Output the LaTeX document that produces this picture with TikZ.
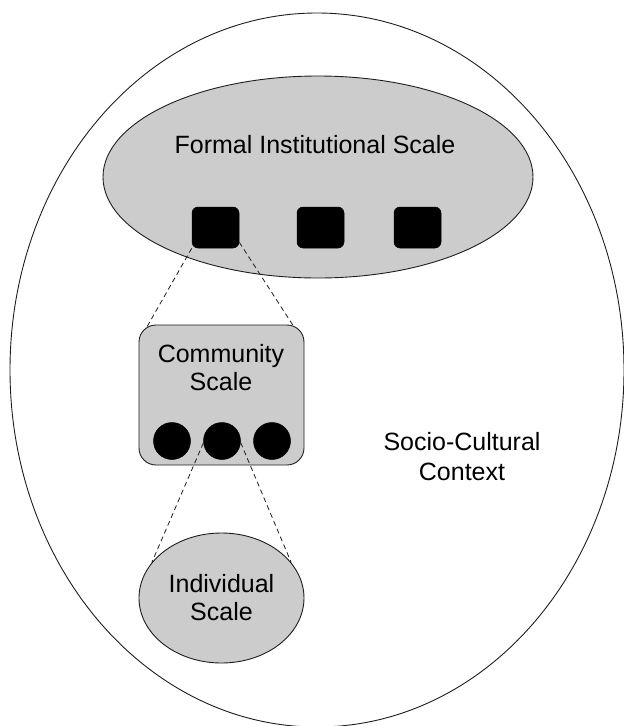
\documentclass[tikz,border=0pt]{standalone}
\usepackage{fontspec}
\setmainfont{Liberation Sans}
\usetikzlibrary{shapes.geometric,calc}
\definecolor{scalegray}{RGB}{204,204,204}
\definecolor{linegray}{RGB}{30,30,30}
\begin{document}
\begin{tikzpicture}[x=1pt,y=-1pt,
  outline/.style={draw=linegray, line width=0.9pt},
  scalefill/.style={outline, fill=scalegray},
  blk/.style={fill=black, draw=black, line width=0.5pt, inner sep=0pt},
  sqr/.style={blk, rounded corners=6pt, minimum width=47pt, minimum height=41pt},
  dot/.style={blk, circle, minimum size=37pt},
  link/.style={draw=linegray, line width=0.8pt, dash pattern=on 5pt off 3.5pt},
  lbl/.style={font=\fontsize{25}{27.5}\selectfont, align=center, inner sep=0pt}
]
\useasboundingbox (0,0) rectangle (624,726);
% outer context
\node[ellipse, outline, minimum width=614pt, minimum height=714pt, inner sep=0pt] (ctx) at (317,370) {};
% formal institutional scale
\node[ellipse, scalefill, minimum width=430pt, minimum height=202pt, inner sep=0pt] (formal) at (318,177) {};
\node[lbl, anchor=base] (formaltxt) at (315,153) {Formal Institutional Scale};
\node[sqr] (sq1) at (215.5,227.5) {};
\node[sqr] (sq2) at (320.5,227.5) {};
\node[sqr] (sq3) at (417.5,227.5) {};
% community scale
\node[scalefill, rounded corners=17pt, minimum width=165pt, minimum height=140pt, inner sep=0pt] (comm) at (221.5,395) {};
\node[lbl, anchor=base] (commtxt) at (221,390) {Community\\Scale};
\node[dot] (c1) at (172,441) {};
\node[dot] (c2) at (222,441) {};
\node[dot] (c3) at (272,441) {};
% individual scale
\node[ellipse, scalefill, minimum width=165pt, minimum height=130pt, inner sep=0pt] (ind) at (221.5,598) {};
\node[lbl, anchor=base] (indtxt) at (221.5,620) {Individual\\Scale};
% context label
\node[lbl, anchor=base, font=\fontsize{25}{30}\selectfont] (ctxtxt) at (462,480) {Socio-Cultural\\Context};
% connectors
\draw[link] (sq1.south west) -- ($(comm.north west)+(8,3)$);
\draw[link] ($(sq1.south east)+(0,-6)$) -- ($(comm.north east)+(-10,3)$);
\draw[link] (c2.186) -- (ind.153);
\draw[link] (c2.-5) -- (ind.27);
\end{tikzpicture}
\end{document}
